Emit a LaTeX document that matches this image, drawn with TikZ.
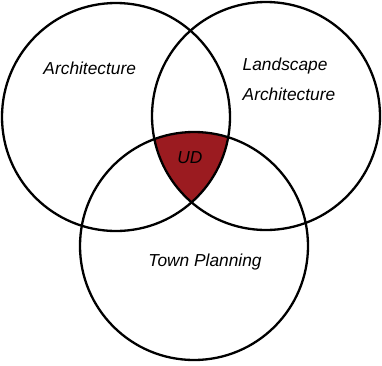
\documentclass[tikz,border=0pt]{standalone}
\usepackage{fontspec}
\setmainfont{Liberation Sans}
\definecolor{udred}{RGB}{155,27,32}
\tikzset{
  ring/.style={draw=black, line width=2.3bp},
  lbl/.style={font=\fontsize{17.4}{20}\selectfont\itshape, inner sep=0pt, text=black},
}
\begin{document}
\begin{tikzpicture}[x=1bp,y=-1bp]
\useasboundingbox (0,0) rectangle (382,366);
\coordinate (A) at (116,117);
\coordinate (L) at (266,116);
\coordinate (T) at (194,246);
\begin{scope}
  \clip (A) circle[radius=114bp];
  \clip (L) circle[radius=114bp];
  \fill[udred] (T) circle[radius=114bp];
\end{scope}
\draw[ring] (A) circle[radius=114bp];
\draw[ring] (L) circle[radius=114bp];
\draw[ring] (T) circle[radius=114bp];
\node[lbl, anchor=base west] (arch) at (43.3,74) {Architecture};
\node[lbl, anchor=base west] (land) at (242.5,70.7) {Landscape};
\node[lbl, anchor=base west] (larch) at (242.5,100) {Architecture};
\node[lbl, anchor=base] (ud) at (190,163.5) {UD};
\node[lbl, anchor=base west] (town) at (148.3,266) {Town Planning};
\end{tikzpicture}
\end{document}
